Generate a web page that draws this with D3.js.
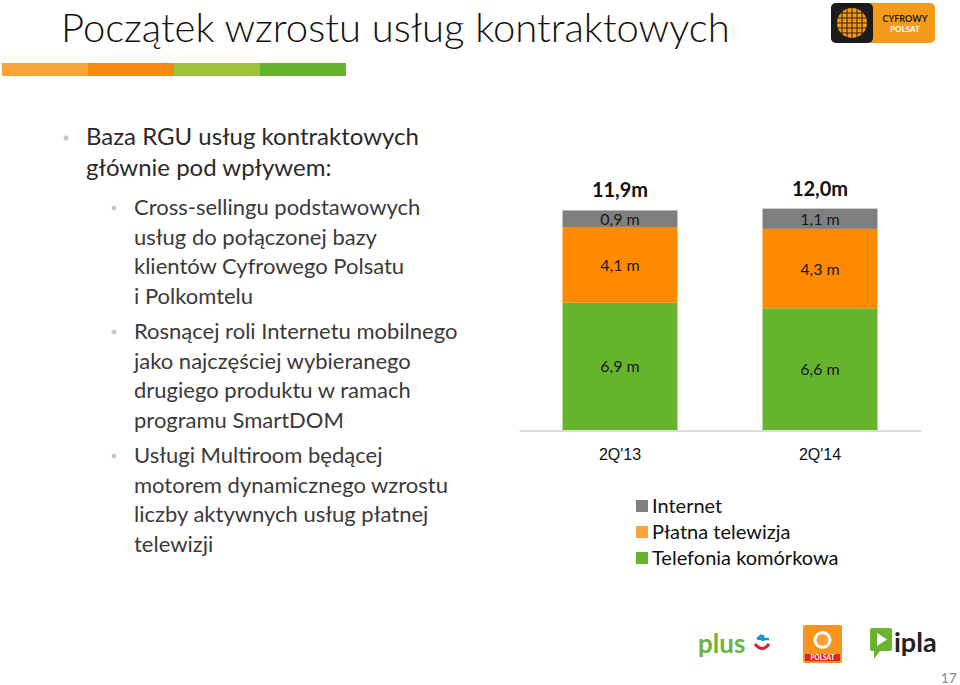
<!DOCTYPE html>
<meta charset="utf-8">
<style>
body { margin: 0; background: #fff; }
svg { font-family: Lato, "Open Sans", sans-serif; }
.title { font-size: 40px; font-weight: 300; fill: #111; }
.lead { font-size: 24px; fill: #2a2a2a; }
.sub { font-size: 22px; fill: #3a3a3a; }
.dot { fill: #c8c8c8; }
.seg-label { font-size: 16px; fill: #1a1a1a; text-anchor: middle; }
.total { font-size: 20px; font-weight: bold; fill: #111; text-anchor: middle; }
.cat { font-size: 16px; fill: #111; text-anchor: middle; }
.legend text { font-size: 20px; fill: #111; }
.axis path, .axis line { stroke: #d0d0d0; }
</style>
<body>
<div id="chart"></div>
<script src="https://cdn.jsdelivr.net/npm/d3@7"></script>
<script>

// data
var periods = ["2Q'13", "2Q'14"];
var seriesNames = ["Telefonia komórkowa", "Płatna telewizja", "Internet"];
var mobile = [6.9, 6.6];
var payTv = [4.1, 4.3];
var internet = [0.9, 1.1];
var totals = ["11,9m", "12,0m"];
var legendOrder = ["Internet", "Płatna telewizja", "Telefonia komórkowa"];

var barColor = {"Telefonia komórkowa": "#66b32e", "Płatna telewizja": "#ff8a00", "Internet": "#7f7f7f"};
var legendColor = {"Telefonia komórkowa": "#66b32e", "Płatna telewizja": "#f9a43a", "Internet": "#808080"};

var bullets = [
  {lvl: 0, lines: ["Baza RGU usług kontraktowych", "głównie pod wpływem:"]},
  {lvl: 1, lines: ["Cross-sellingu podstawowych", "usług  do połączonej bazy", "klientów Cyfrowego Polsatu", "i Polkomtelu"]},
  {lvl: 1, lines: ["Rosnącej roli Internetu mobilnego", "jako najczęściej wybieranego", "drugiego produktu w ramach", "programu SmartDOM"]},
  {lvl: 1, lines: ["Usługi Multiroom będącej", "motorem dynamicznego wzrostu", "liczby aktywnych usług płatnej", "telewizji"]}
];

var width = 960, height = 685;

var svg = d3.select("#chart").append("svg")
    .attr("width", width)
    .attr("height", height);

// header
svg.append("text").attr("class", "title")
    .attr("x", 61).attr("y", 42)
    .text("Początek wzrostu usług kontraktowych");

var stripe = ["#f8a535", "#f78a0e", "#9cc43b", "#66b32e"];
svg.selectAll(".stripe").data(stripe).enter().append("rect")
    .attr("x", function(d, i) { return 2 + i * 86; })
    .attr("y", 63).attr("width", 86).attr("height", 13)
    .attr("fill", function(d) { return d; });

// Cyfrowy Polsat logo
var cp = svg.append("g").attr("transform", "translate(831,3)");
cp.append("rect").attr("width", 104).attr("height", 40).attr("rx", 5).attr("fill", "#f59a1c");
cp.append("rect").attr("width", 42).attr("height", 40).attr("rx", 5).attr("fill", "#1b1b1b");
cp.append("circle").attr("cx", 21).attr("cy", 20).attr("r", 15).attr("fill", "#f29a1f");
[-10, -5, 0, 5, 10].forEach(function(o) {
  cp.append("line").attr("x1", 6).attr("x2", 36).attr("y1", 20 + o).attr("y2", 20 + o)
    .attr("stroke", "#3a2200").attr("stroke-width", 1);
  cp.append("line").attr("y1", 5).attr("y2", 35).attr("x1", 21 + o).attr("x2", 21 + o)
    .attr("stroke", "#3a2200").attr("stroke-width", 1);
});
cp.append("text").attr("x", 74).attr("y", 19).attr("text-anchor", "middle")
  .attr("font-size", 9).attr("font-weight", "bold").attr("fill", "#222").text("CYFROWY");
cp.append("text").attr("x", 74).attr("y", 29).attr("text-anchor", "middle")
  .attr("font-size", 8).attr("font-weight", "bold").attr("fill", "#fff").text("POLSAT");

// bullet text
var ly = 145;
bullets.forEach(function(b, bi) {
  var tx = b.lvl === 0 ? 86 : 134, bx = b.lvl === 0 ? 66 : 114;
  var lh = b.lvl === 0 ? 31 : 29.5;
  if (bi === 1) ly = 215;
  if (bi > 1) ly += 6;
  svg.append("circle").attr("class", "dot").attr("cx", bx).attr("cy", ly - 7).attr("r", 2.5);
  b.lines.forEach(function(l) {
    svg.append("text").attr("class", b.lvl === 0 ? "lead" : "sub")
      .attr("x", tx).attr("y", ly).text(l);
    ly += lh;
  });
});

// chart
var x = d3.scaleBand().domain(periods).range([519, 921])
    .paddingInner(0.425).paddingOuter(0.2175);
var y = d3.scaleLinear().domain([0, 12]).range([430, 430 - 12 * 18.45]);

var rows = periods.map(function(p, i) {
  return {period: p, "Telefonia komórkowa": mobile[i], "Płatna telewizja": payTv[i], "Internet": internet[i], total: totals[i]};
});
var stacked = d3.stack().keys(seriesNames)(rows);

var fmt = function(v) { return String(v.toFixed(1)).replace(".", ",") + " m"; };

var layer = svg.selectAll(".layer").data(stacked).enter().append("g")
    .attr("class", "layer")
    .attr("fill", function(d) { return barColor[d.key]; });

layer.selectAll("rect").data(function(d) { return d; }).enter().append("rect")
    .attr("x", function(d) { return x(d.data.period); })
    .attr("width", x.bandwidth())
    .attr("y", function(d) { return y(d[1]); })
    .attr("height", function(d) { return y(d[0]) - y(d[1]); });

stacked.forEach(function(s) {
  svg.selectAll(null).data(s).enter().append("text")
    .attr("class", "seg-label")
    .attr("x", function(d) { return x(d.data.period) + x.bandwidth() / 2; })
    .attr("y", function(d) { return (y(d[0]) + y(d[1])) / 2 + 6; })
    .text(function(d) { return fmt(d[1] - d[0]); });
});

svg.selectAll(".total").data(rows).enter().append("text")
    .attr("class", "total")
    .attr("x", function(d) { return x(d.period) + x.bandwidth() / 2; })
    .attr("y", function(d) { return y(d["Telefonia komórkowa"] + d["Płatna telewizja"] + d["Internet"]) - 13; })
    .text(function(d) { return d.total; });

var axis = svg.append("g").attr("class", "axis")
    .attr("transform", "translate(0,430.5)")
    .call(d3.axisBottom(x).tickSize(0).tickPadding(18));
axis.select(".domain").attr("stroke", "#d0d0d0").attr("stroke-width", 1.5);
axis.selectAll("text").attr("class", "cat").attr("font-family", null).attr("font-size", null).attr("fill", null);

// legend
var lg = svg.append("g").attr("class", "legend");
legendOrder.forEach(function(k, i) {
  var g = lg.append("g").attr("transform", "translate(636," + (500 + i * 26) + ")");
  g.append("rect").attr("width", 12).attr("height", 12).attr("fill", legendColor[k]);
  g.append("text").attr("x", 16).attr("y", 13).text(k);
});

// bottom logos
var plus = svg.append("g").attr("transform", "translate(698,653)");
plus.append("text").attr("font-size", 26).attr("font-weight", "bold").attr("fill", "#6db33f").text("plus");
plus.append("path").attr("d", "M57,-9 q7,9 14,0").attr("stroke", "#e0202a").attr("stroke-width", 3).attr("fill", "none");
plus.append("path").attr("d", "M59,-14 l5,-4 M65,-18 l0,6 M61,-14 l10,0").attr("stroke", "#1a8ed0").attr("stroke-width", 2.5).attr("fill", "none");

var pol = svg.append("g").attr("transform", "translate(803,625)");
pol.append("rect").attr("width", 39).attr("height", 38).attr("rx", 2).attr("fill", "#f7941d");
pol.append("circle").attr("cx", 19.5).attr("cy", 15).attr("r", 9).attr("fill", "#fff");
pol.append("circle").attr("cx", 19.5).attr("cy", 15).attr("r", 6).attr("fill", "#f7a43d");
pol.append("rect").attr("x", 2).attr("y", 29).attr("width", 35).attr("height", 7).attr("fill", "#d9261c");
pol.append("text").attr("x", 19.5).attr("y", 35).attr("text-anchor", "middle")
  .attr("font-size", 6.5).attr("font-weight", "bold").attr("fill", "#fff").text("POLSAT");

var ipla = svg.append("g").attr("transform", "translate(870,628)");
ipla.append("path").attr("d", "M0,2 q0,-2 2,-2 h18 q2,0 2,2 v19 q0,2 -2,2 h-10 l-6,8 v-8 h-2 q-2,0 -2,-2 z").attr("fill", "#6ab42d");
ipla.append("path").attr("d", "M7,5 l10,6.5 l-10,6.5 z").attr("fill", "#fff");
ipla.append("text").attr("x", 24).attr("y", 24).attr("font-size", 27).attr("font-weight", "bold").attr("fill", "#222").text("ipla");

svg.append("text").attr("x", 957).attr("y", 683).attr("text-anchor", "end")
  .attr("font-size", 14).attr("fill", "#888").text("17");

</script>
</body>
